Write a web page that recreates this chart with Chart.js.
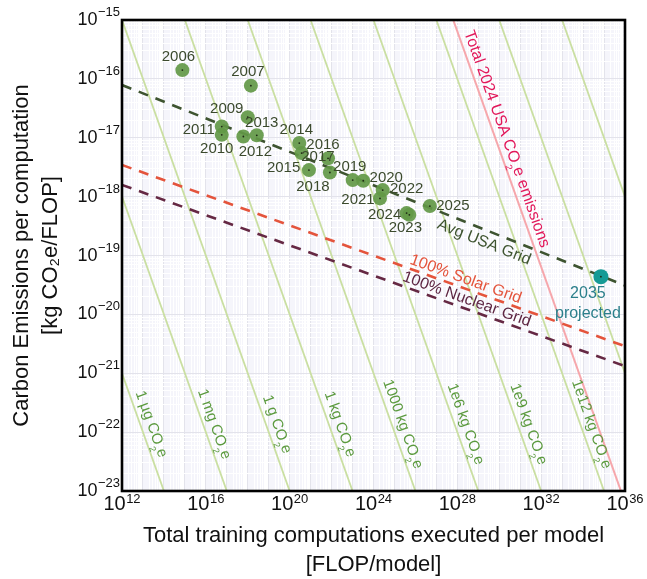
<!DOCTYPE html>
<html><head><meta charset="utf-8">
<script src="https://cdn.jsdelivr.net/npm/chart.js@4.4.1/dist/chart.umd.min.js"></script>
<style>html,body{margin:0;padding:0;background:#fff}</style>
</head><body>
<canvas id="c" width="647" height="579"></canvas>
<script>
// ---------- data ----------
const years = ['2006','2007','2009','2010','2011','2012','2013','2014','2015','2016','2017','2018','2019','2020','2021','2022','2023','2024','2025'];
const computeFLOP = [7.6e14,1.41e18,1.0e18,5.75e16,5.75e16,6.17e17,2.69e18,2.88e20,3.72e20,6.76e21,8.32e21,8.32e20,1.02e23,3.24e23,2.04e24,2.75e24,5.13e25,3.80e25,4.90e26];
const emissionsPerFLOP = [1.41e-16,7.67e-17,2.24e-17,1.12e-17,1.55e-17,1.05e-17,1.10e-17,8.13e-18,5.50e-18,4.47e-18,2.57e-18,2.82e-18,1.91e-18,1.86e-18,9.33e-19,1.29e-18,4.90e-19,5.25e-19,6.92e-19];
const projectedYear = ['2035', 'projected'];
const projectedCompute = [7.08e34];
const projectedEmission = [4.37e-20];
const gridLineX = [1e12, 1e36];
const avgUSAGrid = [7.87e-17, 3.09e-20];
const solarGrid = [3.45e-18, 2.88e-21];
const nuclearGrid = [1.58e-18, 1.32e-21];
const isoTotalsKg = [1e-9, 1e-6, 1e-3, 1, 1e3, 1e6, 1e9, 1e12, 1e15, 1e18, 1e21];
const isoLabels = ['1 µg CO₂e','1 mg CO₂e','1 g CO₂e','1 kg CO₂e','1000 kg CO₂e','1e6 kg CO₂e','1e9 kg CO₂e','1e12 kg CO₂e'];
const usa2024TotalKg = 6.4e12;
const usaLabel = 'Total 2024 USA CO₂e emissions';
const gridLabels = ['Avg USA Grid', '100% Solar Grid', '100% Nuclear Grid'];
const xTickExps = [12,16,20,24,28,32,36];
const yTickExps = [-23,-22,-21,-20,-19,-18,-17,-16,-15];

// ---------- label placement (pixels) ----------
const labelOffsets = {
  '2006':[-4,-13],'2007':[-3,-14],'2009':[-21,-8],'2010':[-5,14],'2011':[-23,3],'2012':[12,15],
  '2013':[5,-12],'2014':[-3,-13],'2015':[-18,15],'2016':[-5,-13],'2017':[-12,-16],'2018':[4,17],
  '2019':[-3,-13],'2020':[23,-3],'2021':[-22,1],'2022':[24,-1],'2023':[-4,13],'2024':[-22,2],'2025':[23,0]
};
const FONT = '"Liberation Sans", Arial, Helvetica, sans-serif';

// ---------- helpers ----------
function logTicks(lo, hi){ const t=[]; for(let e=lo;e<hi;e++){ for(let m=1;m<10;m++) t.push({value:m*Math.pow(10,e)}); } t.push({value:Math.pow(10,hi)}); return t; }
function isDecade(v){ const l=Math.log10(v); return Math.abs(l-Math.round(l))<1e-6; }
function segs(str){ const out=[]; const parts=str.split('₂'); parts.forEach((p,i)=>{ if(p) out.push({t:p}); if(i<parts.length-1) out.push({t:'2',sub:true}); }); return out; }
function drawRich(ctx, text, cx, cy, angle, size, color){
  const s = segs(text);
  ctx.save(); ctx.translate(cx,cy); ctx.rotate(angle);
  ctx.fillStyle=color; ctx.textBaseline='middle'; ctx.textAlign='left';
  let w=0;
  for(const g of s){ ctx.font=(g.sub?size*0.6:size)+'px '+FONT; w+=ctx.measureText(g.t).width; }
  let x=-w/2;
  for(const g of s){ const fs=g.sub?size*0.6:size; ctx.font=fs+'px '+FONT; ctx.fillText(g.t,x,g.sub?size*0.5:0); x+=ctx.measureText(g.t).width; }
  ctx.restore();
}
function lineLabel(chart, p1, p2, anchor, d, text, size, color){
  const xs=chart.scales.x, ys=chart.scales.y;
  const a={x:xs.getPixelForValue(p1[0]), y:ys.getPixelForValue(p1[1])};
  const b={x:xs.getPixelForValue(p2[0]), y:ys.getPixelForValue(p2[1])};
  const ang=Math.atan2(b.y-a.y,b.x-a.x);
  let px,py;
  if(anchor.x!==undefined){ px=xs.getPixelForValue(anchor.x); py=a.y+(b.y-a.y)*(px-a.x)/(b.x-a.x); }
  else { py=ys.getPixelForValue(anchor.y); px=a.x+(b.x-a.x)*(py-a.y)/(b.y-a.y); }
  drawRich(chart.ctx, text, px-d*Math.sin(ang), py+d*Math.cos(ang), ang, size, color);
}

// ---------- datasets ----------
const datasets=[];
datasets.push({type:'scatter', label:'centres', data:years.map((y,i)=>({x:computeFLOP[i],y:emissionsPerFLOP[i]})).concat([{x:projectedCompute[0],y:projectedEmission[0]}]),
  pointRadius:0.9, backgroundColor:'#1e2a14', borderWidth:0, order:0});
datasets.push({type:'scatter', label:'Models', data:years.map((y,i)=>({x:computeFLOP[i],y:emissionsPerFLOP[i]})),
  pointRadius:7, backgroundColor:'rgba(98,152,70,0.92)', borderWidth:0, order:1});
datasets.push({type:'scatter', label:'Projected', data:[{x:projectedCompute[0],y:projectedEmission[0]}],
  pointRadius:7.5, backgroundColor:'#159a95', borderWidth:0, order:1});
const dashCfg = (label, ys, color) => ({type:'line', label, data:gridLineX.map((x,i)=>({x,y:ys[i]})), borderColor:color, borderWidth:2.6, borderDash:[10,8], pointRadius:0, fill:false, tension:0, order:2});
datasets.push(dashCfg(gridLabels[0], avgUSAGrid, '#3e5430'));
datasets.push(dashCfg(gridLabels[1], solarGrid, '#e4543c'));
datasets.push(dashCfg(gridLabels[2], nuclearGrid, '#652843'));
datasets.push({type:'line', label:usaLabel, data:gridLineX.map(x=>({x,y:usa2024TotalKg/x})), borderColor:'#f6a7ac', borderWidth:2, pointRadius:0, tension:0, order:3});
isoTotalsKg.forEach((c,i)=>{
  datasets.push({type:'line', label:'iso'+i, data:gridLineX.map(x=>({x,y:c/x})), borderColor:'#cadfa2', borderWidth:1.8, pointRadius:0, tension:0, order:4});
});

// ---------- plugin ----------
const decor = {
  id:'decor',
  beforeDraw(chart){
    const {ctx, chartArea:a}=chart;
    ctx.save(); ctx.fillStyle='#fff'; ctx.fillRect(0,0,chart.width,chart.height);
    ctx.fillStyle='#f5f5fb'; ctx.fillRect(a.left,a.top,a.right-a.left,a.bottom-a.top); ctx.restore();
  },
  afterDatasetsDraw(chart){
    const {ctx}=chart; const xs=chart.scales.x, ys=chart.scales.y;
    ctx.save();
    const a=chart.chartArea;
    ctx.beginPath(); ctx.rect(a.left,a.top,a.right-a.left,a.bottom-a.top); ctx.clip();
    // iso labels
    isoLabels.forEach((t,i)=>{
      const c=isoTotalsKg[i];
      lineLabel(chart,[gridLineX[0],c/gridLineX[0]],[gridLineX[1],c/gridLineX[1]],{y:1.19e-22},-10.4,t,15,'#5b9a3e');
    });
    lineLabel(chart,[gridLineX[0],usa2024TotalKg/gridLineX[0]],[gridLineX[1],usa2024TotalKg/gridLineX[1]],{y:8.3e-18},-10.4,usaLabel,16,'#e2185a');
    lineLabel(chart,[gridLineX[0],avgUSAGrid[0]],[gridLineX[1],avgUSAGrid[1]],{x:3.02e29},12,gridLabels[0],16,'#3e5430');
    lineLabel(chart,[gridLineX[0],solarGrid[0]],[gridLineX[1],solarGrid[1]],{x:1.78e28},-9,gridLabels[1],16,'#e4543c');
    lineLabel(chart,[gridLineX[0],nuclearGrid[0]],[gridLineX[1],nuclearGrid[1]],{x:2.0e28},-9.2,gridLabels[2],16,'#5e2743');
    // point labels
    ctx.textAlign='center'; ctx.textBaseline='middle'; ctx.fillStyle='#3b4a2d'; ctx.font='15px '+FONT;
    years.forEach((y,i)=>{
      const px=xs.getPixelForValue(computeFLOP[i]), py=ys.getPixelForValue(emissionsPerFLOP[i]);
      const o=labelOffsets[y]; ctx.fillText(y,px+o[0],py+o[1]);
    });
    const qx=xs.getPixelForValue(projectedCompute[0]), qy=ys.getPixelForValue(projectedEmission[0]);
    ctx.fillStyle='#2b7f8b'; ctx.font='16px '+FONT;
    ctx.fillText(projectedYear[0],qx-13,qy+17);
    ctx.fillText(projectedYear[1],qx-13,qy+37);
    ctx.restore();
  },
  afterDraw(chart){
    const {ctx, chartArea:a}=chart; const xs=chart.scales.x, ys=chart.scales.y;
    ctx.save();
    ctx.strokeStyle='#000'; ctx.lineWidth=2.6; ctx.strokeRect(a.left,a.top,a.right-a.left,a.bottom-a.top);
    ctx.fillStyle='#111'; ctx.textBaseline='alphabetic'; ctx.textAlign='left';
    xTickExps.forEach(e=>{
      const px=xs.getPixelForValue(Math.pow(10,e));
      ctx.font='20px '+FONT; const w1=ctx.measureText('10').width;
      ctx.font='13px '+FONT; const es=String(e); const w2=ctx.measureText(es).width;
      const s=px-(w1+w2+0.5)/2;
      ctx.font='20px '+FONT; ctx.fillText('10',s,a.bottom+19);
      ctx.font='13px '+FONT; ctx.fillText(es,s+w1+0.5,a.bottom+12);
    });
    yTickExps.forEach(e=>{
      const py=ys.getPixelForValue(Math.pow(10,e));
      const es='\u2212'+Math.abs(e);
      ctx.font='13px '+FONT; const w2=ctx.measureText(es).width;
      ctx.font='18px '+FONT; const w1=ctx.measureText('10').width;
      const r=a.left-2;
      ctx.fillText('10',r-w2-w1-0.5,py+5);
      ctx.font='13px '+FONT; ctx.fillText(es,r-w2,py-4);
    });
    ctx.restore();
  }
};

const gridColor = c => (c.tick && isDecade(c.tick.value)) ? '#e3e3eb' : '#ffffff';

new Chart(document.getElementById('c'), {
  type:'scatter',
  data:{datasets},
  plugins:[decor],
  options:{
    responsive:false, animation:false, events:[],
    devicePixelRatio:1,
    layout:{padding:{left:0,right:22,top:20,bottom:0}},
    plugins:{legend:{display:false}, tooltip:{enabled:false}},
    scales:{
      x:{type:'logarithmic', position:'bottom', min:1e12, max:1e36,
        afterBuildTicks:s=>{ s.ticks=logTicks(12,36); },
        afterFit:s=>{ s.height=88; },
        ticks:{display:false},
        grid:{color:gridColor, lineWidth:1, drawTicks:false},
        border:{display:false},
        title:{display:true, text:['Total training computations executed per model','[FLOP/model]'], color:'#111',
          font:{family:FONT, size:22, lineHeight:1.32}, padding:{top:0,bottom:0}}
      },
      y:{type:'logarithmic', position:'left', min:1e-23, max:1e-15,
        afterBuildTicks:s=>{ s.ticks=logTicks(-23,-15); },
        afterFit:s=>{ s.width=122; },
        ticks:{display:false},
        grid:{color:gridColor, lineWidth:1, drawTicks:false},
        border:{display:false},
        title:{display:true, text:['Carbon Emissions per computation','[kg CO₂e/FLOP]'], color:'#111',
          font:{family:FONT, size:22, lineHeight:1.32}, padding:{top:7.5,bottom:0}}
      }
    }
  }
});
</script>
</body></html>
